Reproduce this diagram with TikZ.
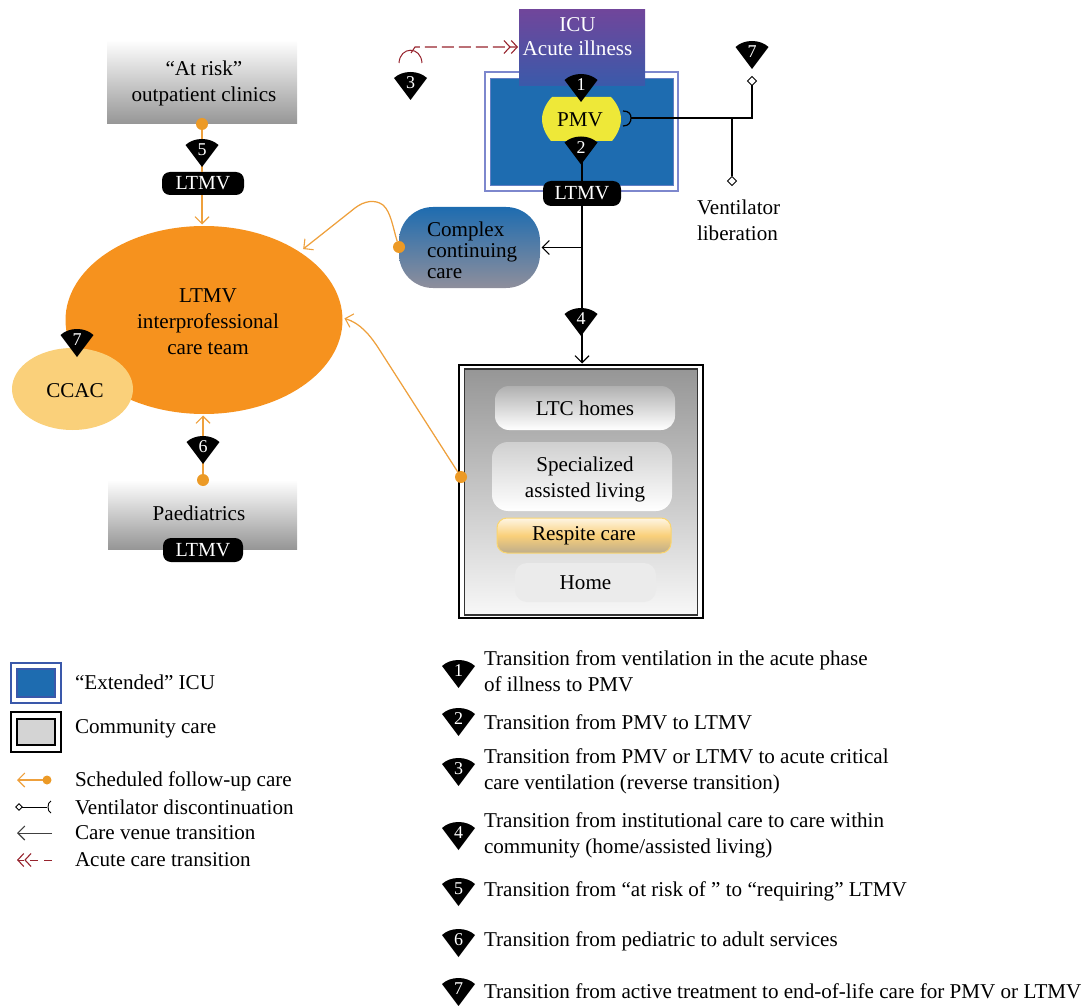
\documentclass[tikz,border=0pt]{standalone}
\usepackage{fontspec}
\setmainfont{Liberation Serif}
\usetikzlibrary{shapes.geometric,arrows.meta,calc}
\definecolor{orangeM}{RGB}{246,146,30}
\definecolor{orangeL}{RGB}{238,160,60}
\definecolor{dotO}{RGB}{236,154,38}
\definecolor{ccac}{RGB}{250,208,122}
\definecolor{icuBlue}{RGB}{30,108,176}
\definecolor{edgeBlue}{RGB}{125,135,205}
\definecolor{legBlue}{RGB}{58,88,170}
\definecolor{purp}{RGB}{112,70,155}
\definecolor{purb}{RGB}{58,90,170}
\definecolor{pmvY}{RGB}{238,232,56}
\definecolor{darkred}{RGB}{150,35,45}
\definecolor{gr}{RGB}{150,150,150}
\newcommand\txt{\fontsize{21.1}{26}\selectfont}
\newcommand\wedgebadge[4]{%
  \begin{scope}[shift={(#2,#3)}]
    \fill[black] (-16.5,6) .. controls (-8,-2) and (8,-2) .. (16.5,6) -- (0,28) -- cycle;
    \node[badgetext] (#1) at (0,11) {#4};
  \end{scope}}
\tikzset{
  badgetext/.style={text=white,inner sep=0pt,font=\fontsize{18}{18}\selectfont},
  pill/.style={fill=black,text=white,rounded corners=8pt,inner sep=0pt,font=\fontsize{20}{20}\selectfont},
  box/.style={inner sep=0pt,outer sep=0pt,align=center,font=\txt},
  label/.style={inner sep=0pt,outer sep=0pt,align=center,font=\txt},
  lefttext/.style={inner sep=0pt,outer sep=0pt,align=left,anchor=west,font=\txt},
  orangeline/.style={draw=orangeL,line width=1.25pt},
  blackline/.style={draw=black,line width=1.25pt},
  dot/.style={circle,fill=dotO,inner sep=0pt,minimum size=12pt,outer sep=0pt},
  diam/.style={diamond,draw=black,fill=white,line width=1pt,inner sep=0pt,minimum size=9pt,outer sep=0pt},
  barbO/.style={-{Straight Barb[length=7pt,width=14pt,line width=1.1pt]},shorten >=1.5pt},
  barbK/.style={-{Straight Barb[length=7pt,width=14pt,line width=1.1pt]},shorten >=1.5pt},
  barbR/.style={-{Straight Barb[length=6pt,width=13pt,line width=1.1pt]Straight Barb[length=6pt,width=13pt,line width=1.1pt]},shorten >=1pt},
}
\begin{document}
\begin{tikzpicture}[x=1pt,y=-1pt]
\useasboundingbox (0,0) rectangle (1088,1006);

% ---- extended ICU
\node[box,draw=edgeBlue,line width=1.2pt,fill=white,minimum width=193pt,minimum height=119pt] (extO) at (581.5,131.5) {};
\node[box,fill=icuBlue,draw=edgeBlue!70!icuBlue,line width=1pt,minimum width=183pt,minimum height=107pt] (extI) at (581.5,132) {};
\node[box,top color=purp,bottom color=purb,minimum width=126pt,minimum height=76pt] (icu) at (582,48) {};
\node[label,text=white] (icuL) at (577.5,37) {ICU\\[-2pt]Acute illness};

% ---- LTMV line and venues
\node[box,draw=black,line width=1.3pt,fill=white,minimum width=244pt,minimum height=253pt] (commO) at (581,491.5) {};
\node[box,draw=black!80,line width=1.5pt,top color=gr,bottom color=white!97!black,minimum width=233pt,minimum height=246pt] (commI) at (581,492) {};
\node[pill,minimum width=78pt,minimum height=25pt] (pillA) at (582,193.5) {LTMV};

\draw[blackline] (pillA.north) ++(0,-30) -- (pillA.north);
\draw[blackline,barbK] (pillA.south) -- (pillA.south |- commO.north);

\node[box,rounded corners=34pt,top color=icuBlue,bottom color=gr!95!blue,minimum width=141pt,minimum height=81pt] (ccc) at (469.5,247.5) {};
\node[label,align=left,anchor=west] (cccL) at (427,250) {Complex\\[-5pt]continuing\\[-5pt]care};
\coordinate (junc) at (pillA.south |- ccc.east);
\draw[blackline,barbK] (junc) -- (ccc.east);

% ---- community contents
\node[box,rounded corners=14pt,top color=gr!75!white,bottom color=white,minimum width=180pt,minimum height=44pt] (ltc) at (585,408) {LTC homes};
\node[box,rounded corners=16pt,top color=gr!45!white,bottom color=white,minimum width=180pt,minimum height=69pt] (sal) at (582,476.5) {};
\node[label] (salL) at (585,479) {Specialized\\assisted living};
\node[box,rounded corners=10pt,draw=ccac!90!yellow,line width=1pt,top color=white!80!ccac,bottom color=gr!60!ccac,middle color=ccac,minimum width=174pt,minimum height=35pt] (resp) at (584,535.5) {Respite care};
\node[box,rounded corners=12pt,fill=black!8,minimum width=141pt,minimum height=39pt] (home) at (585.5,582.5) {Home};

% ---- PMV
\fill[pmvY] (552,97) -- (611,97) .. controls (617,103) and (621,112) .. (621,119)
   .. controls (621,127) and (617,135) .. (612,141) -- (551,141)
   .. controls (546,135) and (542,127) .. (542,119)
   .. controls (542,112) and (546,103) .. (552,97) -- cycle;
\node[label] (pmv) at (580,120) {PMV};
\wedgebadge{b2}{581}{136.5}{2}
\wedgebadge{b1}{581}{74}{1}

% ---- ventilator liberation
\wedgebadge{b7r}{752}{41}{7}
\node[diam] (d7) at (752,81) {};
\node[diam] (dv) at (732,181) {};
\coordinate (cup) at (631,118);
\coordinate (bend) at (d7 |- cup);
\coordinate (brn) at (dv |- cup);
\draw[blackline] (cup) -- (bend) -- (d7.south);
\draw[blackline] (brn) -- (dv.north);
\draw[blackline] (623,111) .. controls (629,111) and (631,114) .. (631,118) .. controls (631,122) and (629,126) .. (623,126);
\node[label,align=left,anchor=west] (vent) at (697,220) {Ventilator\\liberation};

% ---- acute care transition
\wedgebadge{b3}{410.5}{72}{3}
\draw[draw=darkred,line width=1pt] (399,63) .. controls (400,46) and (421,46) .. (422,63);
\coordinate (arcT) at (411,53);
\draw[draw=darkred,line width=1.1pt,dash pattern=on 12pt off 5pt,barbR] (arcT) -- (415,47) -- (icu.west |- 0,47);

% ---- LTMV team
\node[box,ellipse,fill=orangeM,minimum width=277pt,minimum height=188pt] (team) at (204,320) {};
\node[label] (teamL) at (208,322) {LTMV\\interprofessional\\care team};
\node[box,ellipse,fill=ccac,minimum width=121pt,minimum height=82pt] (ccacN) at (72.5,389) {};
\node[label] (ccacL) at (75,391) {CCAC};
\wedgebadge{b7l}{77}{329}{7}

% ---- at risk
\node[box,top color=white,bottom color=gr,minimum width=190pt,minimum height=84pt] (risk) at (202,82) {};
\node[label] (riskL) at (204,83) {“At risk”\\outpatient clinics};
\node[dot] (dr) at (202,124) {};
\node[pill,minimum width=82pt,minimum height=23pt] (pillR) at (203,183.5) {LTMV};
\draw[orangeline] (dr) -- (dr |- pillR.north);
\wedgebadge{b5}{202}{139}{5}
\draw[orangeline,barbO] (dr |- pillR.south) -- (dr |- team.north);

% ---- paediatrics
\node[box,top color=white,bottom color=gr,minimum width=189pt,minimum height=69pt] (paed) at (202.5,514.5) {};
\node[label] (paedL) at (199,513) {Paediatrics};
\node[pill,minimum width=80pt,minimum height=24pt] (pillP) at (203,550) {LTMV};
\node[dot] (dp) at (203,480) {};
\draw[orangeline,barbO] (dp) -- (dp |- team.south);
\wedgebadge{b6}{203}{436}{6}

% ---- follow-up curves
\node[dot] (dc) at (399,247) {};
\node[dot] (dm) at (461,477) {};
\draw[orangeline,barbO] (dc) .. controls (393,228) and (391,212) .. (383,205)
   .. controls (375,199) and (364,201) .. (355,208) -- (302,250);
\draw[orangeline,barbO] (dm) -- (379,349) .. controls (370,335) and (360,323) .. (343,318);

\wedgebadge{b4}{581}{308}{4}

% ---- left legend
\node[box,draw=legBlue,line width=2pt,fill=white,minimum width=50pt,minimum height=40pt] (lgE) at (36,682.5) {};
\node[box,draw=legBlue,line width=1.5pt,fill=icuBlue,minimum width=38pt,minimum height=28pt] (lgEi) at (36,683) {};
\node[box,draw=black,line width=2pt,fill=white,minimum width=50pt,minimum height=40pt] (lgC) at (36,731.5) {};
\node[box,draw=black,line width=2pt,fill=black!17,minimum width=38pt,minimum height=26pt] (lgCi) at (36,731.5) {};
\node[lefttext] (t1) at (75,682) {“Extended” ICU};
\node[lefttext] (t2) at (75,729) {Community care};
\node[lefttext] (t3) at (75,781) {Scheduled follow-up care};
\node[lefttext] (t4) at (75,807) {Ventilator discontinuation};
\node[lefttext] (t5) at (75,833) {Care venue transition};
\node[lefttext] (t6) at (75,860) {Acute care transition};
\node[dot,minimum size=9pt] (ld1) at (47,780) {};
\coordinate (la1) at (17,780);
\draw[orangeline,barbO,shorten >=0pt] (ld1) -- (la1);
\node[diam,minimum size=6.5pt] (ld2) at (19,807) {};
\coordinate (lc2) at (47,807);
\draw[black,line width=1pt] (ld2) -- (lc2);
\draw[black,line width=0.9pt] (51,801) .. controls (47,802) and (47,812) .. (51,813);
\coordinate (la3s) at (52,833);
\coordinate (la3e) at (17,833);
\draw[black!75,line width=1pt,barbK,shorten >=0pt] (la3s) -- (la3e);
\coordinate (la4s) at (52,860);
\coordinate (la4e) at (17,860);
\draw[darkred,line width=1pt,dash pattern=on 8pt off 6pt,barbR,shorten >=0pt] (la4s) -- (la4e);

% ---- right legend
\wedgebadge{k1}{458.5}{660}{1}
\node[lefttext] (r1) at (484,671) {Transition from ventilation in the acute phase\\of illness to PMV};
\wedgebadge{k2}{458.5}{708}{2}
\node[lefttext] (r2) at (484,722) {Transition from PMV to LTMV};
\wedgebadge{k3}{458.5}{758}{3}
\node[lefttext] (r3) at (484,771) {Transition from PMV or LTMV to acute critical\\care ventilation (reverse transition)};
\wedgebadge{k4}{458.5}{822}{4}
\node[lefttext] (r4) at (484,835) {Transition from institutional care to care within\\community (home/assisted living)};
\wedgebadge{k5}{458.5}{878}{5}
\node[lefttext] (r5) at (484,891) {Transition from “at risk of ” to “requiring” LTMV};
\wedgebadge{k6}{458.5}{929}{6}
\node[lefttext] (r6) at (484,941) {Transition from pediatric to adult services};
\wedgebadge{k7}{458.5}{978}{7}
\node[lefttext] (r7) at (484,991) {Transition from active treatment to end-of-life care for PMV or LTMV};
\end{tikzpicture}
\end{document}
